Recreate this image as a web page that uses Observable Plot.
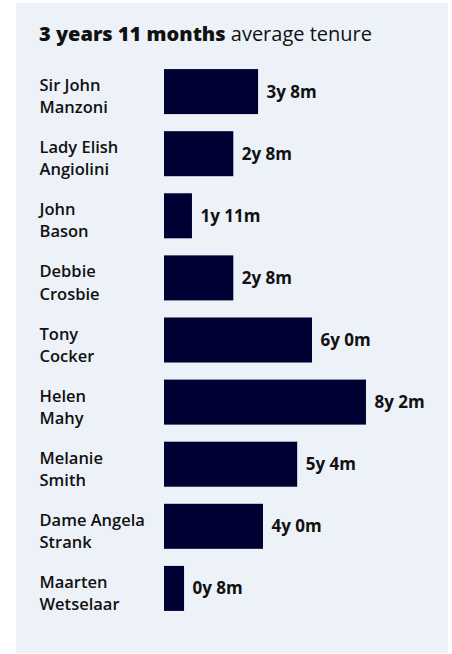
<!DOCTYPE html>
<html>
<head>
<meta charset="utf-8">
<script src="https://cdn.jsdelivr.net/npm/d3@7"></script>
<script src="https://cdn.jsdelivr.net/npm/@observablehq/plot@0.6"></script>
<style>
  html, body { margin: 0; padding: 0; background: #ffffff; }
  #panel { position: absolute; left: 16px; top: 3px; width: 432px; height: 650px; background: #edf1f8; }
  #title { position: absolute; left: 23px; top: 19px; font-family: "Open Sans", sans-serif; font-size: 20px; line-height: 24px; color: #111; white-space: nowrap; }
  #title b { font-weight: 800; }
  #chart { position: absolute; left: 0; top: 47px; }
  #chart g[aria-label="names"] { letter-spacing: 0.7px; }
  #chart g[aria-label="values"] { letter-spacing: 0.5px; }
</style>
</head>
<body>
<div id="panel">
  <div id="title"><b>3 years 11 months</b> average tenure</div>
  <div id="chart"></div>
</div>
<script>
const names = [
  "Sir John\nManzoni",
  "Lady Elish\nAngiolini",
  "John\nBason",
  "Debbie\nCrosbie",
  "Tony\nCocker",
  "Helen\nMahy",
  "Melanie\nSmith",
  "Dame Angela\nStrank",
  "Maarten\nWetselaar"
];
// bar lengths in years as drawn in the picture
const barYears = [3.8, 2.8, 1.13, 2.8, 5.98, 8.16, 5.38, 4.0, 0.81];
const tenureLabels = ["3y 8m", "2y 8m", "1y 11m", "2y 8m", "6y 0m", "8y 2m", "5y 4m", "4y 0m", "0y 8m"];

const data = names.map((n, i) => ({name: n, value: barYears[i], label: tenureLabels[i]}));

const chart = Plot.plot({
  width: 432,
  height: 598,
  marginLeft: 148,
  marginRight: 36.5,
  marginTop: 2,
  marginBottom: 20,
  style: {fontFamily: "'Open Sans', sans-serif", fontSize: "16px", background: "transparent", color: "#111"},
  x: {domain: [0, 10], axis: null},
  y: {domain: names, axis: null, padding: 0.275, round: false},
  marks: [
    Plot.barX(data, {x: "value", y: "name", fill: "#000033"}),
    Plot.text(data, {y: "name", text: "name", frameAnchor: "left", dx: -125, dy: 3, textAnchor: "start", lineHeight: 1.34, fontSize: 16.5, fontWeight: 600, fill: "#111", ariaLabel: "names"}),
    Plot.text(data, {x: "value", y: "name", text: "label", dx: 8, textAnchor: "start", fontSize: 17, fontWeight: 700, fill: "#111", ariaLabel: "values"})
  ]
});
document.getElementById("chart").appendChild(chart);
</script>
</body>
</html>
